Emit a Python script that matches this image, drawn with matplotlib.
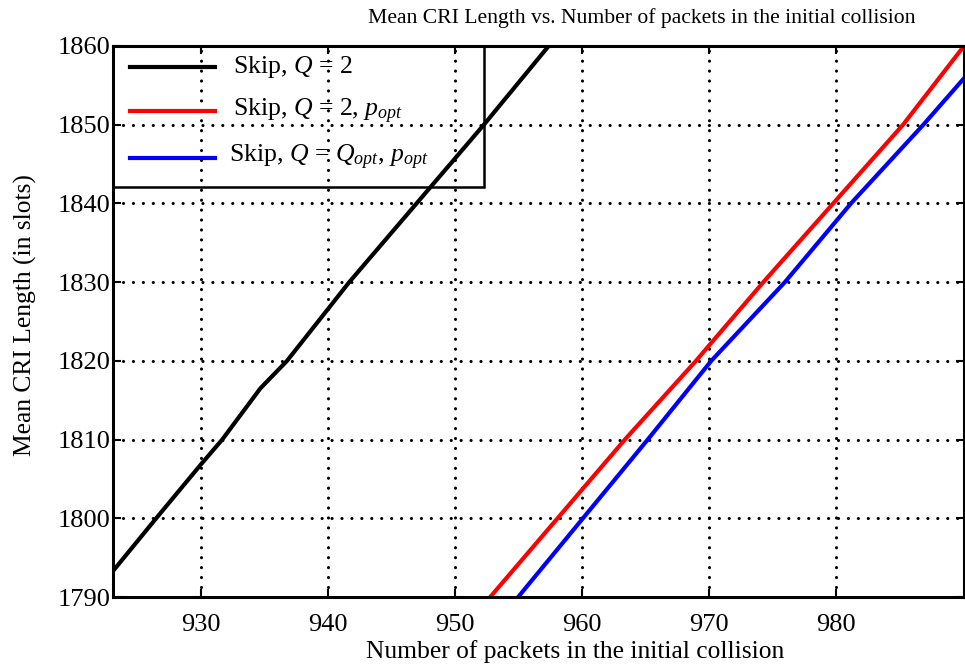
import matplotlib
matplotlib.use("Agg")
import matplotlib.pyplot as plt
from matplotlib.patches import Rectangle
from matplotlib.lines import Line2D

plt.rcParams['font.family'] = ['Liberation Serif', 'DejaVu Serif']
plt.rcParams['mathtext.fontset'] = 'custom'
plt.rcParams['mathtext.rm'] = 'Liberation Serif'
plt.rcParams['mathtext.it'] = 'Liberation Serif:italic'

# Mean CRI length vs. number of packets in the initial collision
black_n = [923.1, 926.5, 930.0, 931.7, 934.7, 936.8, 941.7, 947.0, 952.3, 957.4]
black_len = [1793.3, 1800, 1806.8, 1810, 1816.5, 1820, 1830, 1840, 1850, 1860]

red_n = [952.8, 958.1, 963.4, 969.0, 970.0, 974.3, 979.8, 985.3, 990.1]
red_len = [1790, 1800, 1810, 1820, 1821.9, 1830, 1840, 1850, 1860]

blue_n = [955.0, 960.1, 965.2, 970.2, 976.0, 981.2, 986.9, 990.1]
blue_len = [1790, 1800, 1810, 1820, 1830, 1840, 1850, 1855.9]

labels = [r"Skip, $Q$ = 2",
          r"Skip, $Q$ = 2, $p_{opt}$",
          r"Skip, $Q$ = $Q_{opt}$, $p_{opt}$"]
colors = ["black", "#ff0000", "#0000ff"]

xticks = [930, 940, 950, 960, 970, 980]
yticks = [1790, 1800, 1810, 1820, 1830, 1840, 1850, 1860]

W, H = 965, 668
fig = plt.figure(figsize=(W / 100, H / 100), dpi=100)
ax = fig.add_axes([113 / W, 1 - 597 / H, (964 - 113) / W, (597 - 46) / H])

for n, v, c in zip([black_n, red_n, blue_n], [black_len, red_len, blue_len], colors):
    ax.plot(n, v, color=c, lw=3, solid_joinstyle='round', zorder=3)

ax.set_xlim(923.1, 990.1)
ax.set_ylim(1790, 1860)
ax.set_xticks(xticks)
ax.set_yticks(yticks)
ax.tick_params(direction='in', length=6, width=1.5, top=True, right=True,
               labelsize=19, colors='black')
ax.tick_params(axis='x', pad=12)
ax.tick_params(axis='y', pad=2)
ax.grid(True, color='black', linestyle=(0, (0.05, 3.2)), lw=2.2,
        dash_capstyle='round')
ax.set_axisbelow(False)
for s in ax.spines.values():
    s.set_linewidth(2.2)
    s.set_zorder(4)

# legend box in the upper-left corner (transparent, grid shows through)
ax.add_patch(Rectangle((0, 0.744), 0.436, 0.256, transform=ax.transAxes,
                       facecolor='none', edgecolor='black', lw=1.8, zorder=5))
leg_y = [0.962, 0.882, 0.797]
leg_tx = [0.141, 0.141, 0.136]
for y, tx, c, lab in zip(leg_y, leg_tx, colors, labels):
    ax.add_line(Line2D([0.020, 0.120], [y, y], transform=ax.transAxes,
                       color=c, lw=3, zorder=6))
    ax.text(tx, y, lab, transform=ax.transAxes, fontsize=18.5, va='center',
            ha='left', zorder=6)

fig.text(642 / W, 1 - 18 / H, "Mean CRI Length vs. Number of packets in the initial collision",
         ha='center', va='center', fontsize=15.6)
fig.text(575 / W, 1 - 652 / H, "Number of packets in the initial collision",
         ha='center', va='center', fontsize=18.4)
fig.text(25 / W, 1 - 315 / H, "Mean CRI Length (in slots)",
         ha='center', va='center', rotation=90, fontsize=18.4)

fig.savefig("out.png", dpi=100)
